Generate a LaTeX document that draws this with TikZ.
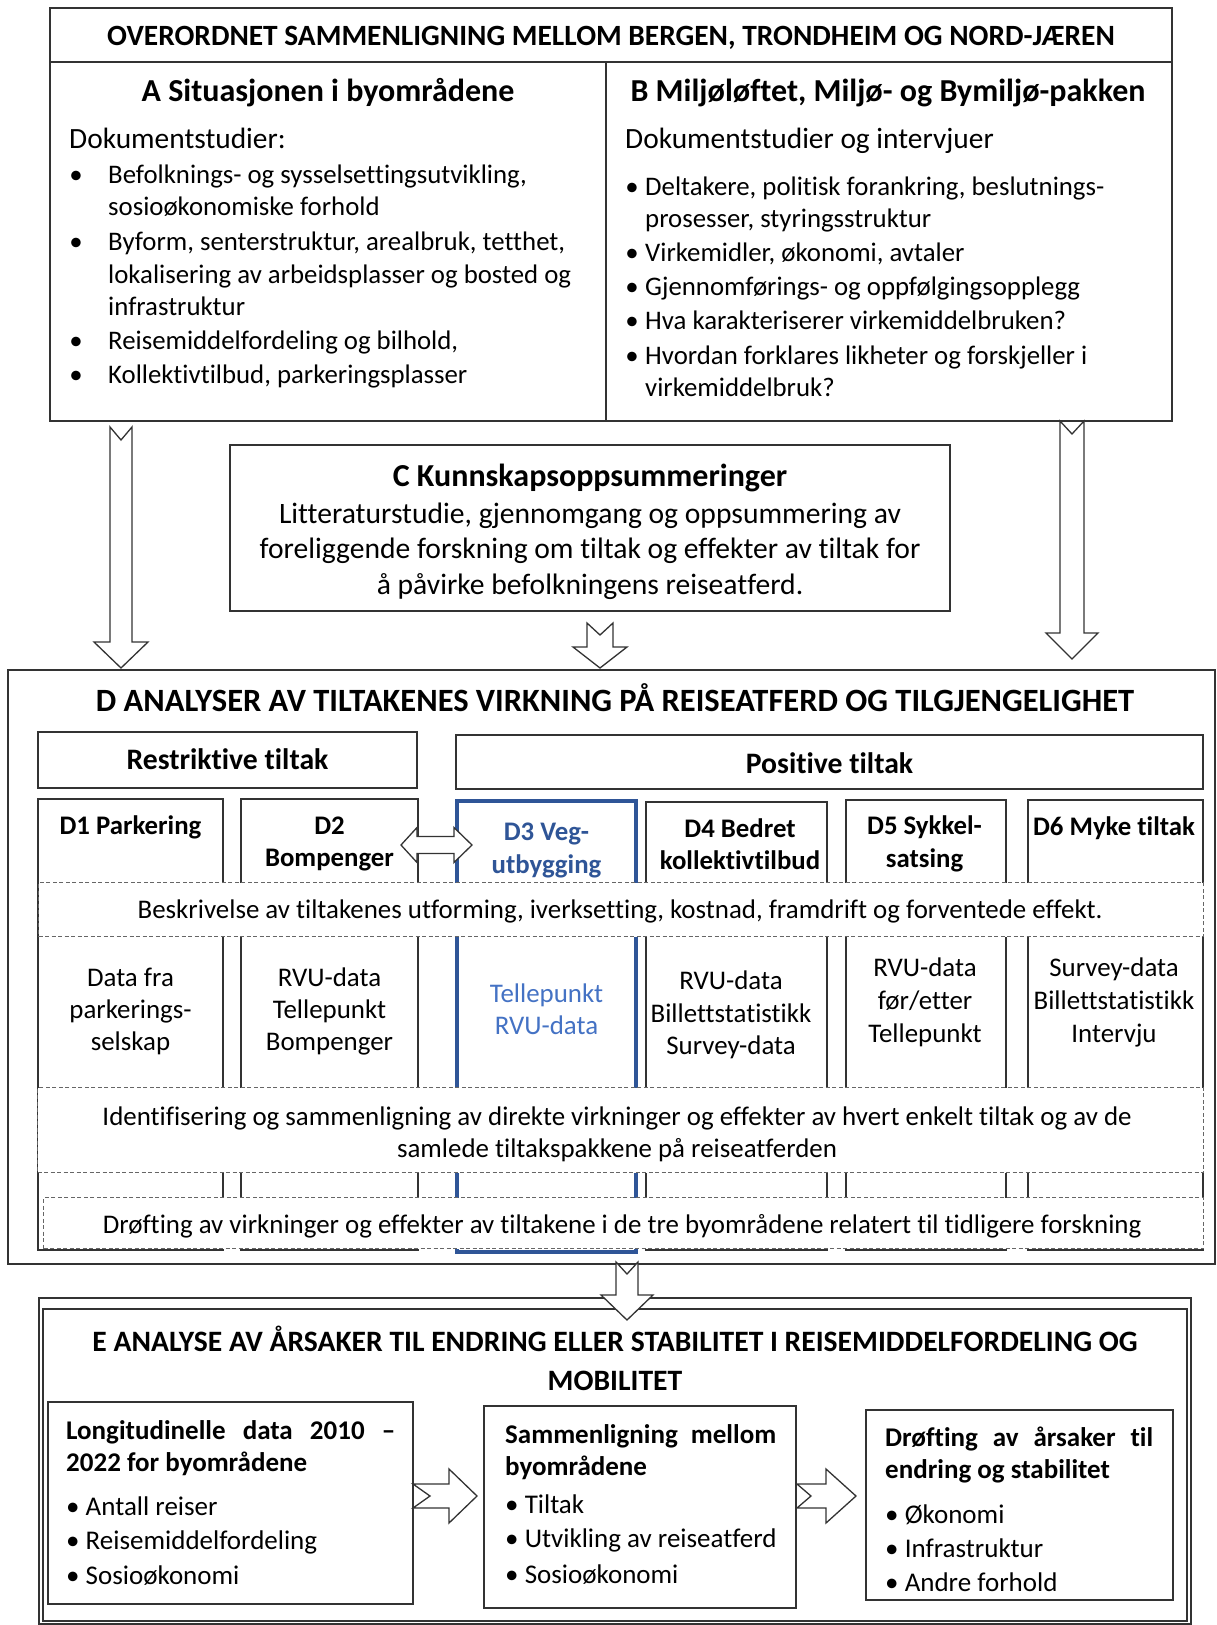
\documentclass[tikz,border=0pt]{standalone}
\usepackage{fontspec}
\setmainfont{Carlito}[Ligatures={NoCommon,NoRequired,NoContextual},RawFeature={-liga;-clig;-rlig;-calt;-dlig}]
\usetikzlibrary{calc}
\definecolor{dblue}{HTML}{2F5597}
\definecolor{lblue}{HTML}{4472C4}
\definecolor{lc}{HTML}{333333}
\definecolor{dc}{HTML}{666666}
\newcommand\fsz[2]{\fontsize{#1}{#2}\selectfont}
\newcommand\mkbox[6][]{\node[boxst,#1,anchor=north west,minimum width={(#5-#3)*1pt},minimum height={(#6-#4)*1pt}] (#2) at (#3,#4) {};}
\newcommand\dnarrow[8]{%
 \coordinate (#1s) at (#2,#3); \coordinate (#1e) at (#2,#4);
 \draw[blk] ($(#1s)+(-#5,0)$) -- ($(#1s)+(0,#8)$) -- ($(#1s)+(#5,0)$) -- ($(#1e)+(#5,-#7)$) -- ($(#1e)+(#6,-#7)$) -- (#1e) -- ($(#1e)+(-#6,-#7)$) -- ($(#1e)+(-#5,-#7)$) -- cycle;}
\newcommand\rtarrow[8]{%
 \coordinate (#1s) at (#3,#2); \coordinate (#1e) at (#4,#2);
 \draw[blk] ($(#1s)+(0,-#5)$) -- ($(#1e)+(-#7,-#5)$) -- ($(#1e)+(-#7,-#6)$) -- (#1e) -- ($(#1e)+(-#7,#6)$) -- ($(#1e)+(-#7,#5)$) -- ($(#1s)+(0,#5)$) -- ($(#1s)+(#8,0)$) -- cycle;}
\begin{document}
\begin{tikzpicture}[x=1pt,y=-1pt,
  boxst/.style={draw=lc,line width=1.3pt,inner sep=0pt,outer sep=0pt,fill=white},
  band/.style={draw=dc,line width=1.1pt,dash pattern=on 4pt off 2.5pt,fill=white},
  blk/.style={draw=lc,line width=1.3pt,fill=white,line join=miter},
  tl/.style={inner sep=0pt,anchor=base west,text=black},
  tc/.style={inner sep=0pt,anchor=base,text=black},
  bul/.style={inner sep=0pt,anchor=base,text=black,font=\fsz{26.8}{33}},
  ta/.style={font=\fsz{26.8}{33}},
  colt/.style={tc,font=\bfseries\fsz{26.8}{32}},
  dat/.style={tc,font=\fsz{26.9}{32}},
  et/.style={tl,font=\bfseries\fsz{27}{32}},
  eb/.style={tl,font=\fsz{27}{32}}]
\useasboundingbox (0,0) rectangle (1216,1625);
\fill[white] (0,0) rectangle (1216,1625);

% ---------- top block
\mkbox{top}{50}{8}{1172}{62}
\mkbox{boxA}{50}{62}{606}{421}
\mkbox{boxB}{606}{62}{1172}{421}
\node[tc,font=\bfseries\fsz{29.4}{34}] (toptitle) at (611,45) {OVERORDNET SAMMENLIGNING MELLOM BERGEN, TRONDHEIM OG NORD-JÆREN};

\node[tc,font=\bfseries\fsz{32}{38}] (Atitle) at (328,101) {A Situasjonen i byområdene};
\node[tl,font=\fsz{29.4}{34}] (Adok) at (69,148) {Dokumentstudier:};
\node[bul] (Ab1) at (76,183) {•};
\node[tl,ta] (Al1) at (108,183) {Befolknings- og sysselsettingsutvikling,};
\node[tl,ta] (Al2) at (108,215) {sosioøkonomiske forhold};
\node[bul] (Ab2) at (76,250) {•};
\node[tl,ta] (Al3) at (108,250) {Byform, senterstruktur, arealbruk, tetthet,};
\node[tl,ta] (Al4) at (108,283) {lokalisering av arbeidsplasser og bosted og};
\node[tl,ta] (Al5) at (108,315) {infrastruktur};
\node[bul] (Ab3) at (76,349) {•};
\node[tl,ta] (Al6) at (108,349) {Reisemiddelfordeling og bilhold,};
\node[bul] (Ab4) at (76,383) {•};
\node[tl,ta] (Al7) at (108,383) {Kollektivtilbud, parkeringsplasser};

\node[tc,font=\bfseries\fsz{32}{38}] (Btitle) at (888,101) {B Miljøløftet, Miljø- og Bymiljø-pakken};
\node[tl,font=\fsz{29.4}{34}] (Bdok) at (625,148) {Dokumentstudier og intervjuer};
\node[bul] (Bb1) at (632,195) {•};
\node[tl,ta] (Bl1) at (645,195) {Deltakere, politisk forankring, beslutnings-};
\node[tl,ta] (Bl2) at (645,227) {prosesser, styringsstruktur};
\node[bul] (Bb2) at (632,261) {•};
\node[tl,ta] (Bl3) at (645,261) {Virkemidler, økonomi, avtaler};
\node[bul] (Bb3) at (632,295) {•};
\node[tl,ta] (Bl4) at (645,295) {Gjennomførings- og oppfølgingsopplegg};
\node[bul] (Bb4) at (632,329) {•};
\node[tl,ta] (Bl5) at (645,329) {Hva karakteriserer virkemiddelbruken?};
\node[bul] (Bb5) at (632,364) {•};
\node[tl,ta] (Bl6) at (645,364) {Hvordan forklares likheter og forskjeller i};
\node[tl,ta] (Bl7) at (645,396) {virkemiddelbruk?};

% ---------- C
\mkbox{boxC}{230}{445}{950}{611}
\node[tc,font=\bfseries\fsz{32}{38}] (Ctitle) at (590,486) {C Kunnskapsoppsummeringer};
\node[tc,font=\fsz{29.6}{35}] (Cl1) at (590,523) {Litteraturstudie, gjennomgang og oppsummering av};
\node[tc,font=\fsz{29.6}{35}] (Cl2) at (590,558) {foreliggende forskning om tiltak og effekter av tiltak for};
\node[tc,font=\fsz{29.6}{35}] (Cl3) at (590,594) {å påvirke befolkningens reiseatferd.};

% ---------- D
\mkbox{boxD}{8}{670}{1215}{1264}
\dnarrow{arA}{121}{427}{668}{11}{27}{26}{13}
\dnarrow{arB}{1072}{421}{659}{12}{26}{26}{13}
\dnarrow{arC}{600}{623}{668}{13}{27}{21}{12}
\node[tc,font=\bfseries\fsz{32.5}{38}] (Dtitle) at (615,711) {D ANALYSER AV TILTAKENES VIRKNING PÅ REISEATFERD OG TILGJENGELIGHET};

\mkbox{restr}{38}{732}{417}{788}
\node[tc,font=\bfseries\fsz{29.7}{34}] (restrt) at (227.5,769) {Restriktive tiltak};
\mkbox{posit}{456}{735}{1203}{789}
\node[tc,font=\bfseries\fsz{29.7}{34}] (positt) at (829.5,773) {Positive tiltak};

\mkbox{D1}{38}{799}{223}{1250}
\mkbox{D2}{241}{799}{418}{1250}
\mkbox[draw=dblue,line width=4pt]{D3}{457}{801}{636}{1252}
\mkbox{D4}{646}{802}{827}{1250}
\mkbox{D5}{846}{800}{1006}{1250}
\mkbox{D6}{1028}{800}{1203}{1250}

\node[colt] (D1t) at (130.5,834) {D1 Parkering};
\node[colt] (D2t) at (329.5,834) {D2};
\node[colt] (D2t2) at (329.5,866) {Bompenger};
\node[colt,text=dblue] (D3t) at (546.5,840) {D3 Veg-};
\node[colt,text=dblue] (D3t2) at (546.5,873) {utbygging};
\node[colt] (D4t) at (740,837) {D4 Bedret};
\node[colt] (D4t2) at (740,869) {kollektivtilbud};
\node[colt] (D5t) at (924.5,834) {D5 Sykkel-};
\node[colt] (D5t2) at (924.5,867) {satsing};
\node[colt] (D6t) at (1114,835) {D6 Myke tiltak};

% double arrow D2 <-> D3
\coordinate (dal) at (401,845); \coordinate (dar) at (472,845);
\draw[blk] (dal) -- ($(dal)+(16,-17.5)$) -- ($(dal)+(16,-8.5)$) -- ($(dar)+(-18,-8.5)$) -- ($(dar)+(-18,-17.5)$) -- (dar) -- ($(dar)+(-18,17.5)$) -- ($(dar)+(-18,8.5)$) -- ($(dal)+(16,8.5)$) -- ($(dal)+(16,17.5)$) -- cycle;

\node[band,anchor=north west,minimum width=1165pt,minimum height=54pt,inner sep=0pt] (band1) at (38,882) {};
\node[tc,font=\fsz{26.9}{32}] (band1t) at (620,918) {Beskrivelse av tiltakenes utforming, iverksetting, kostnad, framdrift og forventede effekt.};

\node[dat] (d1a) at (130.5,986) {Data fra};
\node[dat] (d1b) at (130.5,1018) {parkerings-};
\node[dat] (d1c) at (130.5,1050) {selskap};
\node[dat] (d2a) at (329.5,986) {RVU-data};
\node[dat] (d2b) at (329.5,1018) {Tellepunkt};
\node[dat] (d2c) at (329.5,1050) {Bompenger};
\node[dat,text=lblue] (d3a) at (546.5,1002) {Tellepunkt};
\node[dat,text=lblue] (d3b) at (546.5,1034) {RVU-data};
\node[dat] (d4a) at (731,989) {RVU-data};
\node[dat] (d4b) at (731,1022) {Billettstatistikk};
\node[dat] (d4c) at (731,1054) {Survey-data};
\node[dat] (d5a) at (925,976) {RVU-data};
\node[dat] (d5b) at (925,1009) {før/etter};
\node[dat] (d5c) at (925,1042) {Tellepunkt};
\node[dat] (d6a) at (1114,976) {Survey-data};
\node[dat] (d6b) at (1114,1009) {Billettstatistikk};
\node[dat] (d6c) at (1114,1042) {Intervju};

\node[band,anchor=north west,minimum width=1166pt,minimum height=85pt,inner sep=0pt] (band2) at (37,1087) {};
\node[tc,font=\fsz{26.9}{32}] (band2t) at (617,1125) {Identifisering og sammenligning av direkte virkninger og effekter av hvert enkelt tiltak og av de};
\node[tc,font=\fsz{26.9}{32}] (band2t2) at (617,1157) {samlede tiltakspakkene på reiseatferden};

\node[band,anchor=north west,minimum width=1160pt,minimum height=51pt,inner sep=0pt] (band3) at (43,1197) {};
\node[tc,font=\fsz{26.9}{32}] (band3t) at (622,1233) {Drøfting av virkninger og effekter av tiltakene i de tre byområdene relatert til tidligere forskning};

% ---------- E
\mkbox{Eout}{39}{1298}{1191}{1624}
\mkbox{Ein}{43}{1309}{1187}{1621}
\dnarrow{arD}{627}{1262}{1320}{11}{26}{25}{12}
\node[tc,font=\bfseries\fsz{29.6}{34}] (Etitle) at (615,1351) {E ANALYSE AV ÅRSAKER TIL ENDRING ELLER STABILITET I REISEMIDDELFORDELING OG};
\node[tc,font=\bfseries\fsz{29.6}{34}] (Etitle2) at (615,1390) {MOBILITET};

\mkbox{E1}{48}{1402}{413}{1604}
\mkbox{E2}{484}{1406}{796}{1608}
\mkbox{E3}{866}{1410}{1173}{1600}
\rtarrow{arE1}{1496}{413}{477}{12}{27}{28}{17}
\rtarrow{arE2}{1496}{797}{856}{12}{27}{30}{14}

\node[et] (E1a) at (66,1439) {\makebox[329pt][s]{Longitudinelle\hfill data\hfill 2010\hfill –}};
\node[et] (E1b) at (66,1471) {2022 for byområdene};
\node[eb] (E1c) at (66,1515) {• Antall reiser};
\node[eb] (E1d) at (66,1549) {• Reisemiddelfordeling};
\node[eb] (E1e) at (66,1584) {• Sosioøkonomi};

\node[et] (E2a) at (505,1443) {\makebox[271pt][s]{Sammenligning\hfill mellom}};
\node[et] (E2b) at (505,1475) {byområdene};
\node[eb] (E2c) at (505,1513) {• Tiltak};
\node[eb] (E2d) at (505,1547) {• Utvikling av reiseatferd};
\node[eb] (E2e) at (505,1583) {• Sosioøkonomi};

\node[et] (E3a) at (885,1446) {\makebox[268pt][s]{Drøfting\hfill av\hfill årsaker\hfill til}};
\node[et] (E3b) at (885,1478) {endring og stabilitet};
\node[eb] (E3c) at (885,1523) {• Økonomi};
\node[eb] (E3d) at (885,1557) {• Infrastruktur};
\node[eb] (E3e) at (885,1591) {• Andre forhold};
\end{tikzpicture}
\end{document}
